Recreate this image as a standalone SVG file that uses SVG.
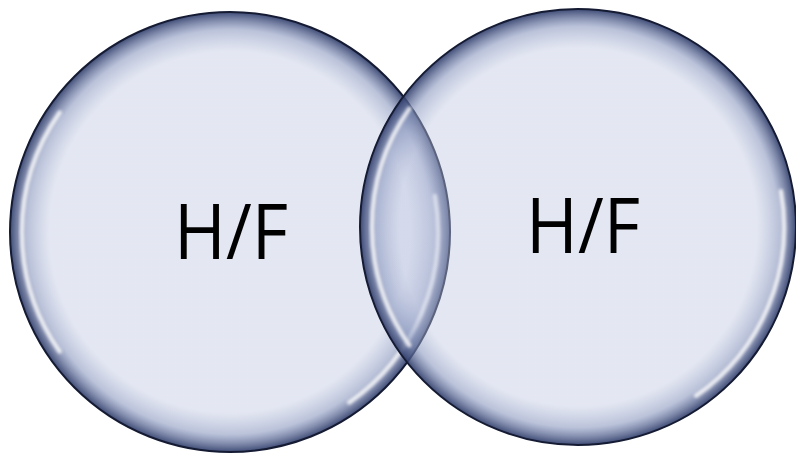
<svg xmlns="http://www.w3.org/2000/svg" width="796" height="453" viewBox="0 0 796 453">
  <defs>
    <radialGradient id="glass" cx="0.5" cy="0.5" r="0.5">
      <stop offset="0" stop-color="#bec6e1" stop-opacity="0.42"/>
      <stop offset="0.82" stop-color="#bec6e1" stop-opacity="0.42"/>
      <stop offset="0.92" stop-color="#8896be" stop-opacity="0.58"/>
      <stop offset="1" stop-color="#2f3c6a" stop-opacity="0.92"/>
    </radialGradient>
    <filter id="soft" x="-10%" y="-10%" width="120%" height="120%">
      <feGaussianBlur stdDeviation="1.8"/>
    </filter>
  </defs>
  <style>
    .bubble { fill: url(#glass); stroke: #141b33; stroke-width: 2; }
    .hl { fill: none; stroke: #ffffff; stroke-width: 4.5; stroke-opacity: 0.8; stroke-linecap: round; filter: url(#soft); }
    .label { font-family: "Open Sans", "Noto Sans", "Liberation Sans", sans-serif; font-size: 77px; fill: #000000; text-anchor: middle; }
  </style>
  <rect width="796" height="453" fill="#ffffff"/>
  <g id="circle-left">
    <circle class="bubble" cx="230" cy="232" r="220"/>
    <path class="hl" d="M 59.6 112.6 A 208 208 0 0 0 59.6 351.4"/>
    <path class="hl" d="M 434.8 195.9 A 208 208 0 0 1 349.3 402.4"/>
    <text class="label" x="231" y="259" textLength="114" lengthAdjust="spacingAndGlyphs">H/F</text>
  </g>
  <g id="circle-right">
    <circle class="bubble" cx="578" cy="227" r="218"/>
    <path class="hl" d="M 409.3 108.8 A 206 206 0 0 0 409.3 345.2"/>
    <path class="hl" d="M 780.9 191.2 A 206 206 0 0 1 696.2 395.7"/>
    <text class="label" x="583" y="253" textLength="114" lengthAdjust="spacingAndGlyphs">H/F</text>
  </g>
  <g id="connectors"/>
</svg>
